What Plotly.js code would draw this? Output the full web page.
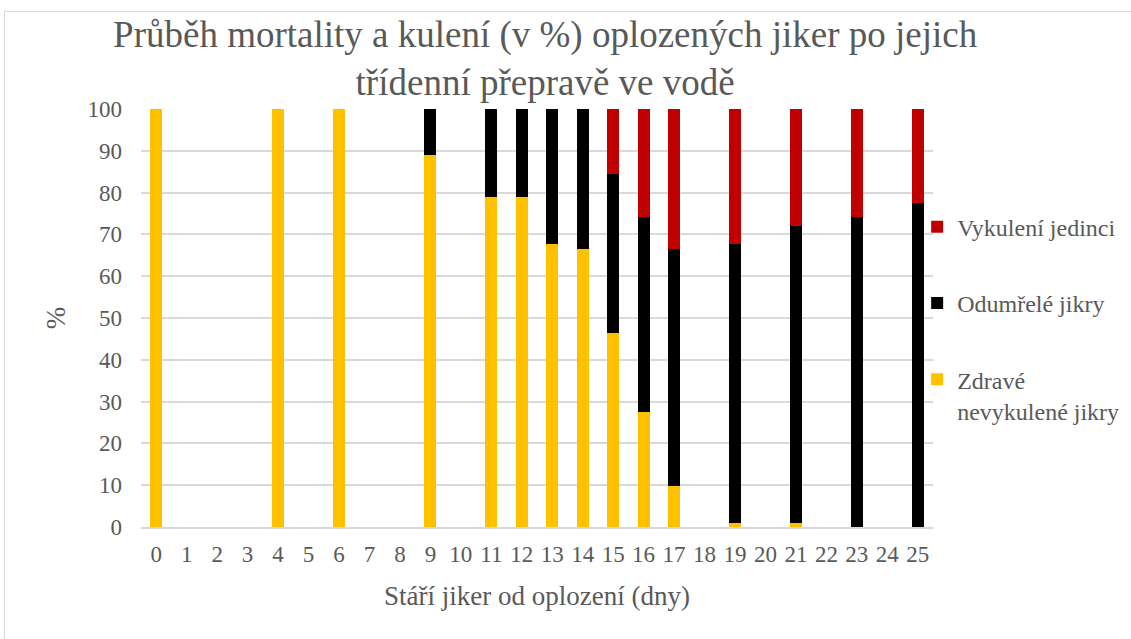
<!DOCTYPE html>
<html>
<head>
<meta charset="utf-8">
<script src="https://cdn.plot.ly/plotly-3.0.1.min.js"></script>
<style>
html,body{margin:0;padding:0;background:#fff;overflow:hidden;}
#frame{position:absolute;left:4px;top:11px;width:1140px;height:640px;border:1px solid #d9d9d9;}
#chart{position:absolute;left:0;top:0;width:1131px;height:639px;}
</style>
</head>
<body>
<div id="frame"></div>
<div id="chart"></div>
<script>
const days = ['0','1','2','3','4','5','6','7','8','9','10','11','12','13','14','15','16','17','18','19','20','21','22','23','24','25'];
const healthy = [100,null,null,null,100,null,100,null,null,89,null,79,79,67.6,66.5,46.5,27.5,9.7,null,1,null,1,null,0,null,0];
const dead    = [0,null,null,null,0,null,0,null,null,11,null,21,21,32.4,33.5,37.9,46.7,56.8,null,66.6,null,71.1,null,74.2,null,77.6];
const hatched = [0,null,null,null,0,null,0,null,null,0,null,0,0,0,0,15.6,25.8,33.5,null,32.4,null,27.9,null,25.8,null,22.4];
const names = ['Zdravé<br>nevykulené jikry','Odumřelé jikry','Vykulení jedinci'];
const colors = ['#ffc000','#000000','#c00000'];
const ranks = [3,2,1];

const series = [healthy, dead, hatched];
const data = series.map((v,i)=>({
  type:'bar', x:days, y:v, name:names[i], legendgroup:'g'+i, legendrank:ranks[i],
  marker:{color:colors[i], line:{width:0}}, hoverinfo:'x+y+name'
}));

const font = '"Times New Roman", "Liberation Serif", Tinos, serif';
const layout = {
  width:1131, height:639,
  margin:{l:141, r:198, t:109, b:112, autoexpand:false},
  paper_bgcolor:'rgba(0,0,0,0)', plot_bgcolor:'rgba(0,0,0,0)',
  barmode:'stack', bargap:0.6,
  font:{family:font, color:'#595959', size:23},
  title:{text:'Průběh mortality a kulení (v %) oplozených jiker po jejich<br>třídenní přepravě ve vodě',
    font:{family:font, size:37, color:'#595959'}, x:0.482, xanchor:'center', xref:'container',
    yref:'container', y:0.926, yanchor:'middle'},
  xaxis:{type:'category', tickfont:{family:font, size:23, color:'#595959'}, showgrid:false,
    showline:true, linecolor:'#d9d9d9', linewidth:2, ticks:'', ticklen:0, ticklabelstandoff:5,
    title:{text:'Stáří jiker od oplození (dny)', font:{family:font, size:27, color:'#595959'}, standoff:21}},
  yaxis:{range:[0,100], dtick:10, tickfont:{family:font, size:23, color:'#595959'}, showgrid:true,
    gridcolor:'#d9d9d9', gridwidth:2, zeroline:false, showline:false, ticks:'', ticklen:0, ticklabelstandoff:18,
    title:{text:'%', font:{family:font, size:27, color:'#595959'}, standoff:14}},
  legend:{x:0.98, xanchor:'left', y:0.771, yanchor:'top', traceorder:'grouped', valign:'top',
    tracegroupgap:42, font:{family:font, size:24, color:'#595959'}, itemwidth:30},
  showlegend:true
};
Plotly.newPlot('chart', data, layout, {displayModeBar:false, staticPlot:true});
</script>
</body>
</html>
